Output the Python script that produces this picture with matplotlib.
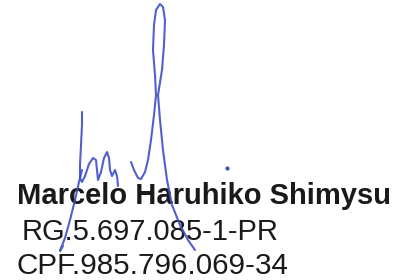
import matplotlib
matplotlib.use("Agg")
import matplotlib.pyplot as plt

# ---- text content ----
name_line = "Marcelo Haruhiko Shimysu"
rg_line = "RG.5.697.085-1-PR"
cpf_line = "CPF.985.796.069-34"

# ---- signature strokes (pixel coordinates of the image) ----
stroke1_x = [82, 82, 81, 80, 80, 82, 85, 89, 93, 96, 97, 98, 101, 104, 107, 109, 110, 112, 115, 117, 118]
stroke1_y = [112, 125, 145, 165, 178, 182, 176, 164, 158, 160, 170, 180, 172, 158, 152, 158, 170, 176, 170, 176, 186]

stroke2_x = [82, 79, 75, 70, 65, 61, 60, 63]
stroke2_y = [170, 182, 200, 220, 238, 248, 251, 246]

stroke3_x = [131, 134, 138, 141, 145, 148, 151, 154, 156, 155, 153, 154, 156, 160, 163, 165, 164, 162, 158, 160, 163, 167, 172, 180, 188, 195]
stroke3_y = [162, 170, 178, 179, 172, 160, 140, 115, 95, 75, 50, 25, 10, 4, 7, 20, 45, 70, 95, 120, 150, 180, 205, 225, 240, 250]

dot_x = [227]
dot_y = [168]

ink = "#3f4fc6"

fig = plt.figure(figsize=(4.03, 2.80), dpi=100)
ax = fig.add_axes([0, 0, 1, 1])
ax.set_xlim(0, 403)
ax.set_ylim(280, 0)
ax.axis("off")

font = ["Liberation Sans", "DejaVu Sans"]
ax.text(17, 204, name_line, fontsize=21, fontweight="bold", family=font,
        color="#1a1a1a", va="baseline", ha="left", zorder=1)
ax.text(22, 240, rg_line, fontsize=21, family=font,
        color="#1a1a1a", va="baseline", ha="left", zorder=1)
ax.text(17, 274, cpf_line, fontsize=21.3, family=font,
        color="#1a1a1a", va="baseline", ha="left", zorder=1)

for xs, ys in [(stroke1_x, stroke1_y), (stroke2_x, stroke2_y), (stroke3_x, stroke3_y)]:
    ax.plot(xs, ys, color=ink, lw=1.5, solid_capstyle="round",
            solid_joinstyle="round", alpha=0.9, zorder=3)
ax.plot(dot_x, dot_y, "o", color=ink, ms=2, zorder=3)

fig.savefig("out.png", dpi=100, facecolor="white")
